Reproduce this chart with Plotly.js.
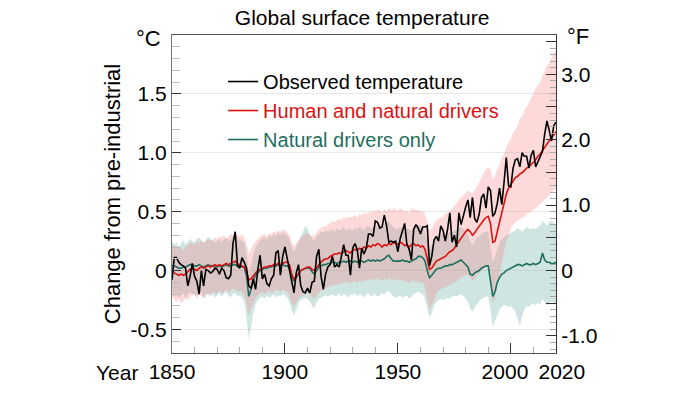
<!DOCTYPE html>
<html><head><meta charset="utf-8">
<script src="https://cdn.plot.ly/plotly-3.0.1.min.js"></script>
<style>html,body{margin:0;padding:0;background:#fff}</style>
</head><body><div id="chart" style="width:700px;height:393px"></div>
<script>
const firstYear = 1850, lastYear = 2020;
const years = [];
for (let y = firstYear; y <= lastYear; y++) years.push(y);

// Observed temperature (°C change from 1850-1900)
const observed = [
 -0.08, 0.11, 0.11, 0.07, 0.05, 0.04, 0.02, -0.13, -0.05, 0.06,
 -0.05, -0.09, -0.20, 0.00, -0.13, 0.01, 0.00, -0.02, -0.01, 0.02,
 0.01, -0.03, 0.02, 0.00, -0.06, -0.07, -0.04, 0.23, 0.33, 0.04,
 0.02, 0.11, 0.07, 0.02, -0.13, -0.15, -0.07, -0.16, 0.01, 0.13,
 -0.07, -0.03, -0.11, -0.13, -0.07, -0.04, 0.15, 0.17, -0.04, 0.12,
 0.20, 0.10, -0.02, -0.12, -0.19, -0.02, 0.05, -0.13, -0.18, -0.19,
 -0.15, -0.19, -0.10, -0.09, 0.12, 0.18, -0.05, -0.16, -0.03, 0.03,
 0.05, 0.12, 0.03, 0.05, 0.03, 0.12, 0.22, 0.13, 0.13, -0.04,
 0.19, 0.23, 0.18, 0.02, 0.19, 0.14, 0.19, 0.31, 0.31, 0.29,
 0.42, 0.41, 0.36, 0.37, 0.47, 0.38, 0.24, 0.25, 0.24, 0.25,
 0.16, 0.27, 0.34, 0.40, 0.22, 0.18, 0.09, 0.35, 0.39, 0.36,
 0.31, 0.37, 0.37, 0.38, 0.04, 0.12, 0.26, 0.29, 0.25, 0.38,
 0.34, 0.25, 0.35, 0.49, 0.24, 0.30, 0.20, 0.49, 0.39, 0.47,
 0.54, 0.60, 0.45, 0.62, 0.44, 0.41, 0.48, 0.62, 0.65, 0.53,
 0.71, 0.68, 0.46, 0.49, 0.57, 0.70, 0.56, 0.75, 0.96, 0.72,
 0.71, 0.87, 0.94, 0.95, 0.88, 1.00, 0.97, 0.97, 0.87, 0.98,
 1.02, 0.88, 0.92, 0.96, 1.01, 1.16, 1.27, 1.19, 1.10, 1.23,
 1.26
];

// Simulated: human and natural drivers (model mean)
const humanNatural = [
 0.00, -0.02, -0.03, -0.04, -0.03, -0.04, -0.03, -0.01, 0.01, 0.02,
 0.01, 0.00, 0.02, 0.03, 0.02, 0.03, 0.04, 0.03, 0.04, 0.05,
 0.04, 0.05, 0.04, 0.05, 0.06, 0.05, 0.06, 0.07, 0.08, 0.06,
 0.05, 0.04, 0.03, -0.01, -0.08, -0.07, -0.04, -0.02, 0.00, 0.01,
 0.02, 0.03, 0.03, 0.04, 0.04, 0.05, 0.05, 0.06, 0.05, 0.06,
 0.07, 0.07, 0.05, -0.03, -0.07, -0.05, -0.02, 0.00, 0.01, 0.02,
 0.03, 0.03, 0.01, 0.00, 0.03, 0.05, 0.07, 0.09, 0.10, 0.10,
 0.12, 0.13, 0.14, 0.14, 0.15, 0.14, 0.16, 0.17, 0.16, 0.15,
 0.17, 0.18, 0.17, 0.19, 0.18, 0.20, 0.19, 0.21, 0.20, 0.22,
 0.21, 0.23, 0.22, 0.20, 0.22, 0.21, 0.23, 0.22, 0.24, 0.23,
 0.22, 0.24, 0.23, 0.21, 0.22, 0.20, 0.22, 0.23, 0.21, 0.22,
 0.20, 0.21, 0.18, 0.10, 0.01, 0.02, 0.05, 0.08, 0.09, 0.10,
 0.11, 0.12, 0.14, 0.16, 0.17, 0.19, 0.22, 0.25, 0.28, 0.31,
 0.33, 0.35, 0.33, 0.30, 0.32, 0.35, 0.38, 0.41, 0.43, 0.45,
 0.46, 0.40, 0.24, 0.25, 0.33, 0.42, 0.50, 0.58, 0.65, 0.70,
 0.73, 0.77, 0.79, 0.80, 0.82, 0.83, 0.85, 0.87, 0.88, 0.90,
 0.92, 0.94, 0.97, 0.99, 1.02, 1.05, 1.08, 1.11, 1.13, 1.15,
 1.18
];
const humanNaturalHigh = [
 0.20, 0.22, 0.18, 0.21, 0.19, 0.17, 0.20, 0.22, 0.24, 0.23,
 0.22, 0.25, 0.23, 0.26, 0.24, 0.25, 0.27, 0.25, 0.26, 0.28,
 0.27, 0.29, 0.28, 0.30, 0.27, 0.29, 0.31, 0.30, 0.32, 0.30,
 0.29, 0.31, 0.28, 0.22, 0.15, 0.18, 0.22, 0.25, 0.27, 0.29,
 0.30, 0.31, 0.29, 0.32, 0.31, 0.33, 0.32, 0.34, 0.33, 0.35,
 0.34, 0.33, 0.30, 0.24, 0.21, 0.23, 0.26, 0.28, 0.30, 0.31,
 0.32, 0.31, 0.29, 0.30, 0.33, 0.35, 0.36, 0.38, 0.37, 0.39,
 0.40, 0.42, 0.41, 0.43, 0.44, 0.43, 0.45, 0.44, 0.46, 0.45,
 0.46, 0.47, 0.45, 0.48, 0.47, 0.49, 0.48, 0.50, 0.49, 0.51,
 0.50, 0.52, 0.51, 0.49, 0.52, 0.50, 0.53, 0.51, 0.53, 0.52,
 0.51, 0.53, 0.52, 0.50, 0.51, 0.49, 0.52, 0.53, 0.51, 0.52,
 0.50, 0.51, 0.48, 0.42, 0.34, 0.36, 0.40, 0.43, 0.44, 0.45,
 0.46, 0.48, 0.49, 0.51, 0.53, 0.55, 0.57, 0.60, 0.62, 0.64,
 0.66, 0.68, 0.67, 0.65, 0.68, 0.71, 0.75, 0.79, 0.83, 0.86,
 0.88, 0.86, 0.78, 0.80, 0.86, 0.90, 0.96, 0.99, 1.05, 1.08,
 1.12, 1.17, 1.20, 1.23, 1.29, 1.31, 1.36, 1.39, 1.42, 1.47,
 1.50, 1.55, 1.57, 1.60, 1.66, 1.69, 1.74, 1.76, 1.81, 1.84,
 1.87
];
const humanNaturalLow = [
 -0.22, -0.25, -0.27, -0.24, -0.28, -0.26, -0.23, -0.25, -0.22, -0.20,
 -0.21, -0.24, -0.20, -0.22, -0.23, -0.19, -0.21, -0.20, -0.18, -0.19,
 -0.20, -0.17, -0.19, -0.18, -0.16, -0.19, -0.17, -0.15, -0.16, -0.18,
 -0.17, -0.19, -0.21, -0.28, -0.38, -0.33, -0.27, -0.23, -0.21, -0.19,
 -0.18, -0.20, -0.19, -0.17, -0.19, -0.18, -0.16, -0.17, -0.18, -0.16,
 -0.17, -0.18, -0.21, -0.28, -0.31, -0.27, -0.24, -0.22, -0.21, -0.20,
 -0.19, -0.20, -0.23, -0.24, -0.21, -0.19, -0.17, -0.16, -0.15, -0.14,
 -0.13, -0.12, -0.13, -0.11, -0.12, -0.10, -0.11, -0.09, -0.10, -0.11,
 -0.10, -0.09, -0.11, -0.08, -0.10, -0.08, -0.09, -0.07, -0.08, -0.07,
 -0.08, -0.06, -0.08, -0.09, -0.07, -0.08, -0.06, -0.08, -0.07, -0.08,
 -0.09, -0.07, -0.08, -0.10, -0.09, -0.11, -0.09, -0.08, -0.10, -0.09,
 -0.11, -0.10, -0.14, -0.24, -0.33, -0.30, -0.24, -0.20, -0.17, -0.16,
 -0.15, -0.14, -0.13, -0.12, -0.11, -0.10, -0.09, -0.08, -0.06, -0.05,
 -0.04, -0.03, -0.06, -0.09, -0.07, -0.04, -0.02, 0.00, 0.02, 0.04,
 0.05, -0.02, -0.28, -0.24, -0.12, -0.02, 0.08, 0.16, 0.24, 0.31,
 0.36, 0.39, 0.41, 0.42, 0.44, 0.45, 0.46, 0.48, 0.49, 0.50,
 0.52, 0.53, 0.55, 0.56, 0.58, 0.60, 0.62, 0.64, 0.66, 0.68,
 0.70
];

// Simulated: natural drivers only (model mean)
const naturalOnly = [
 0.04, 0.04, 0.03, 0.02, 0.02, 0.03, 0.03, 0.04, 0.05, 0.05,
 0.04, 0.04, 0.05, 0.04, 0.03, 0.04, 0.05, 0.04, 0.04, 0.03,
 0.03, 0.04, 0.03, 0.04, 0.05, 0.04, 0.04, 0.05, 0.05, 0.04,
 0.04, 0.03, 0.03, -0.05, -0.22, -0.16, -0.08, -0.04, -0.02, 0.00,
 0.01, 0.02, 0.02, 0.03, 0.03, 0.04, 0.04, 0.05, 0.04, 0.05,
 0.04, 0.04, 0.02, -0.05, -0.09, -0.06, -0.02, 0.00, 0.01, 0.02,
 0.02, 0.02, -0.01, -0.03, 0.00, 0.03, 0.04, 0.05, 0.05, 0.06,
 0.06, 0.07, 0.07, 0.06, 0.07, 0.07, 0.08, 0.07, 0.08, 0.08,
 0.07, 0.08, 0.07, 0.08, 0.08, 0.07, 0.08, 0.09, 0.08, 0.09,
 0.08, 0.09, 0.08, 0.09, 0.10, 0.12, 0.13, 0.10, 0.08, 0.08,
 0.08, 0.08, 0.09, 0.08, 0.08, 0.07, 0.08, 0.09, 0.10, 0.12,
 0.12, 0.11, 0.08, 0.00, -0.06, -0.04, -0.01, 0.01, 0.02, 0.02,
 0.03, 0.04, 0.04, 0.05, 0.05, 0.06, 0.07, 0.08, 0.09, 0.07,
 0.05, 0.03, -0.03, -0.04, -0.02, -0.01, 0.00, 0.02, 0.03, 0.04,
 0.04, -0.08, -0.22, -0.18, -0.10, -0.06, -0.03, -0.02, 0.00, 0.01,
 0.02, 0.03, 0.04, 0.05, 0.05, 0.04, 0.05, 0.06, 0.05, 0.05,
 0.06, 0.05, 0.06, 0.07, 0.15, 0.09, 0.07, 0.07, 0.06, 0.06,
 0.07
];
const naturalOnlyHigh = [
 0.25, 0.22, 0.24, 0.20, 0.23, 0.26, 0.22, 0.24, 0.27, 0.25,
 0.24, 0.27, 0.28, 0.25, 0.23, 0.26, 0.29, 0.27, 0.26, 0.24,
 0.25, 0.27, 0.24, 0.26, 0.28, 0.25, 0.26, 0.29, 0.28, 0.26,
 0.27, 0.25, 0.24, 0.15, -0.02, 0.05, 0.14, 0.20, 0.23, 0.26,
 0.27, 0.29, 0.26, 0.30, 0.28, 0.31, 0.29, 0.32, 0.30, 0.33,
 0.31, 0.30, 0.27, 0.20, 0.16, 0.20, 0.25, 0.29, 0.33, 0.38,
 0.36, 0.30, 0.27, 0.25, 0.29, 0.31, 0.33, 0.32, 0.34, 0.33,
 0.34, 0.35, 0.33, 0.36, 0.34, 0.35, 0.37, 0.34, 0.36, 0.35,
 0.34, 0.36, 0.35, 0.37, 0.36, 0.34, 0.37, 0.38, 0.36, 0.37,
 0.38, 0.37, 0.39, 0.38, 0.40, 0.41, 0.42, 0.39, 0.37, 0.36,
 0.35, 0.37, 0.36, 0.34, 0.36, 0.35, 0.34, 0.37, 0.38, 0.39,
 0.38, 0.37, 0.33, 0.24, 0.18, 0.21, 0.25, 0.28, 0.30, 0.31,
 0.30, 0.32, 0.31, 0.33, 0.32, 0.34, 0.35, 0.36, 0.37, 0.35,
 0.33, 0.31, 0.25, 0.22, 0.25, 0.27, 0.29, 0.31, 0.32, 0.33,
 0.33, 0.22, 0.08, 0.12, 0.19, 0.24, 0.27, 0.28, 0.30, 0.31,
 0.32, 0.33, 0.34, 0.36, 0.35, 0.33, 0.35, 0.37, 0.36, 0.35,
 0.36, 0.35, 0.37, 0.38, 0.42, 0.40, 0.38, 0.41, 0.43, 0.40,
 0.39
];
const naturalOnlyLow = [
 -0.18, -0.22, -0.20, -0.23, -0.21, -0.19, -0.24, -0.20, -0.18, -0.21,
 -0.19, -0.22, -0.20, -0.18, -0.24, -0.21, -0.19, -0.22, -0.20, -0.23,
 -0.21, -0.19, -0.22, -0.20, -0.18, -0.21, -0.23, -0.20, -0.19, -0.22,
 -0.21, -0.23, -0.26, -0.40, -0.58, -0.48, -0.36, -0.29, -0.25, -0.23,
 -0.22, -0.24, -0.21, -0.23, -0.22, -0.20, -0.23, -0.21, -0.22, -0.20,
 -0.21, -0.23, -0.27, -0.34, -0.38, -0.33, -0.28, -0.25, -0.24, -0.23,
 -0.24, -0.26, -0.30, -0.32, -0.27, -0.24, -0.23, -0.22, -0.21, -0.22,
 -0.21, -0.20, -0.22, -0.21, -0.19, -0.22, -0.20, -0.21, -0.23, -0.20,
 -0.21, -0.19, -0.22, -0.20, -0.21, -0.23, -0.20, -0.19, -0.22, -0.21,
 -0.20, -0.22, -0.21, -0.19, -0.20, -0.18, -0.17, -0.20, -0.22, -0.23,
 -0.22, -0.21, -0.23, -0.22, -0.21, -0.24, -0.22, -0.20, -0.19, -0.18,
 -0.19, -0.20, -0.24, -0.33, -0.40, -0.36, -0.30, -0.27, -0.25, -0.24,
 -0.25, -0.24, -0.23, -0.24, -0.22, -0.21, -0.22, -0.21, -0.20, -0.22,
 -0.24, -0.26, -0.32, -0.35, -0.31, -0.28, -0.26, -0.24, -0.23, -0.22,
 -0.22, -0.33, -0.48, -0.43, -0.37, -0.33, -0.31, -0.29, -0.30, -0.31,
 -0.30, -0.32, -0.35, -0.41, -0.47, -0.39, -0.33, -0.30, -0.31, -0.29,
 -0.28, -0.30, -0.27, -0.29, -0.24, -0.27, -0.30, -0.28, -0.26, -0.27,
 -0.28
];

const PAD = '<span style="color:rgba(0,0,0,0)">0</span>';
const xTickVals = [1850, 1900, 1950, 2000, 2020];
const xTickText = ['1850', '1900', '1950', '2000' + PAD, PAD + '2020'];
const cTickVals = [-0.5, 0, 0.5, 1.0, 1.5];
const cTickText = ['-0.5', '0', '0.5', '1.0', '1.5'];
const fTickVals = [-1, -0.5, 0, 0.5, 1, 1.5, 2, 2.5, 3, 3.5];
const fTickText = ['-1.0', '', '0', '', '1.0', '', '2.0', '', '3.0', ''];
const cRange = [-0.7, 2.0];
const fRange = [-1.26, 3.6];

const RED = '#dd1111', GREEN = '#1f6e5e';
const FONT = 'Liberation Sans, Arial, Helvetica, sans-serif';

const traces = [
  {x: years, y: naturalOnlyLow, mode: 'lines', line: {width: 0}, showlegend: false, hoverinfo: 'skip'},
  {x: years, y: naturalOnlyHigh, mode: 'lines', line: {width: 0}, fill: 'tonexty', fillcolor: 'rgba(60,150,140,0.25)', showlegend: false, hoverinfo: 'skip'},
  {x: years, y: humanNaturalLow, mode: 'lines', line: {width: 0}, showlegend: false, hoverinfo: 'skip'},
  {x: years, y: humanNaturalHigh, mode: 'lines', line: {width: 0}, fill: 'tonexty', fillcolor: 'rgba(250,120,120,0.28)', showlegend: false, hoverinfo: 'skip'},
  {x: years, y: naturalOnly, mode: 'lines', line: {color: GREEN, width: 1.6}, name: '<span style="color:' + GREEN + '">Natural drivers only</span>', legendrank: 3},
  {x: years, y: humanNatural, mode: 'lines', line: {color: RED, width: 1.6}, name: '<span style="color:' + RED + '">Human and natural drivers</span>', legendrank: 2},
  {x: years, y: observed, mode: 'lines', line: {color: '#000', width: 1.6}, name: 'Observed temperature', legendrank: 1},
  {x: [firstYear], y: [null], yaxis: 'y2', mode: 'lines', showlegend: false, hoverinfo: 'skip'}
];

const layout = {
  width: 700, height: 393,
  margin: {l: 172, r: 144, t: 35, b: 40},
  paper_bgcolor: '#fff', plot_bgcolor: '#fff',
  font: {family: FONT, size: 21, color: '#000'},
  title: {text: 'Global surface temperature', xref: 'paper', x: 0.495, xanchor: 'center',
          yref: 'container', y: 0.955, yanchor: 'middle', font: {size: 21}},
  showlegend: true,
  legend: {x: 0.133, y: 0.915, xanchor: 'left', yanchor: 'top', bgcolor: 'rgba(0,0,0,0)',
           font: {size: 20}, borderwidth: 0, traceorder: 'normal'},
  xaxis: {range: [firstYear, lastYear], tickmode: 'array', tickvals: xTickVals, ticktext: xTickText,
          tickangle: 0, ticks: 'inside', ticklen: 10, tickcolor: '#333', tickwidth: 1,
          minor: {tickmode: 'linear', tick0: 1850, dtick: 10, ticks: 'inside', ticklen: 6, tickcolor: '#aaa', showgrid: false},
          showgrid: false, zeroline: false, showline: true, linecolor: '#555', mirror: true,
          tickfont: {size: 21}, automargin: false, fixedrange: true},
  yaxis: {range: cRange, tickmode: 'array', tickvals: cTickVals, ticktext: cTickText,
          ticks: 'inside', ticklen: 9, tickcolor: '#333',
          minor: {tickmode: 'linear', tick0: 0, dtick: 0.1, ticks: 'inside', ticklen: 8, tickcolor: '#bbb', showgrid: false},
          showgrid: true, gridcolor: '#e8e8e8', zeroline: false, showline: true, linecolor: '#777',
          tickfont: {size: 21}, automargin: false, fixedrange: true,
          title: {text: 'Change from pre-industrial', font: {size: 22}, standoff: 3}},
  yaxis2: {overlaying: 'y', side: 'right', range: fRange, tickmode: 'array', tickvals: fTickVals, ticktext: fTickText,
          ticks: 'inside', ticklen: 10, tickcolor: '#333',
          minor: {tickmode: 'linear', tick0: 0, dtick: 0.1, ticks: 'inside', ticklen: 6, tickcolor: '#aaa', showgrid: false},
          showgrid: false, zeroline: false, showline: true, linecolor: '#333',
          tickfont: {size: 21}, automargin: false, fixedrange: true},
  annotations: [
    {text: '°C', xref: 'paper', yref: 'paper', x: -0.0625, y: 0.99, xanchor: 'center', yanchor: 'middle', showarrow: false, font: {size: 22}},
    {text: '°F', xref: 'paper', yref: 'paper', x: 1.057, y: 0.995, xanchor: 'center', yanchor: 'middle', showarrow: false, font: {size: 22}},
    {text: 'Year', xref: 'paper', yref: 'paper', x: -0.143, y: -0.06, xanchor: 'center', yanchor: 'middle', showarrow: false, font: {size: 21}}
  ]
};

Plotly.newPlot('chart', traces, layout, {displayModeBar: false, staticPlot: true});
</script></body></html>
